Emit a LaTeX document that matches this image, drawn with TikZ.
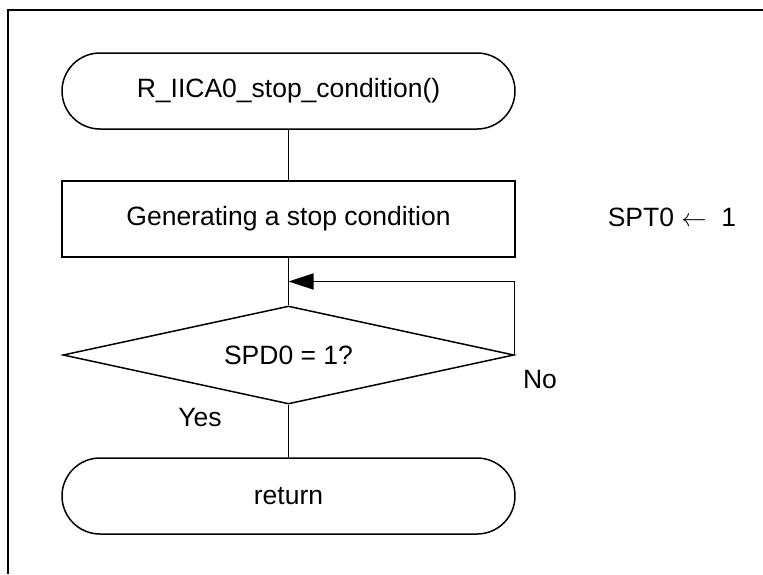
\documentclass[tikz,border=0pt]{standalone}
\usepackage{fontspec}
\setmainfont{Liberation Sans}
\usetikzlibrary{arrows.meta,shapes,calc,positioning}

\begin{document}
\begin{tikzpicture}[font=\fontsize{15.08}{18}\selectfont,
		terminal/.style={draw,line width=0.85pt,rectangle,rounded corners=0.76cm,minimum width=9.06cm,minimum height=1.52cm,inner sep=0pt},
		procbox/.style={draw,line width=0.85pt,rectangle,minimum width=9.06cm,minimum height=1.52cm,inner sep=0pt},
		decision/.style={draw,line width=0.85pt,diamond,aspect=4.6,minimum width=9.02cm,minimum height=1.96cm,inner sep=0pt},
		flow/.style={line width=0.85pt}]
		\useasboundingbox (0,0) rectangle (15.26,-11.48);
		\draw[line width=0.7pt] (0.16,-11.48) -- (0.16,-0.2) -- (15.26,-0.2);
		
		\node[terminal] (start) at (5.77,-1.82) {R\_IICA0\_stop\_condition()};
		\node[procbox] (stopcond) at (5.77,-4.38) {Generating a stop condition};
		\node[decision] (spd) at (5.77,-7.1) {SPD0 = 1?};
		\node[terminal] (ret) at (5.77,-9.92) {return};
		\coordinate (join) at ($(stopcond.south)!0.5!(spd.north)$);
		
		\node (spt) at (13.44,-4.34) {SPT0 $\leftarrow$\ \ 1};
		\node (yes) at (4.0,-8.36) {Yes};
		\node (no) at (10.8,-7.6) {No};
		
		\draw[flow] (start) -- (stopcond);
		\draw[flow] (stopcond) -- (spd);
		\draw[flow] (spd) -- (ret);
		\draw[flow,-{Triangle[length=0.5cm,width=0.32cm]}] (spd.east) |- (join);
\end{tikzpicture}
\end{document}
